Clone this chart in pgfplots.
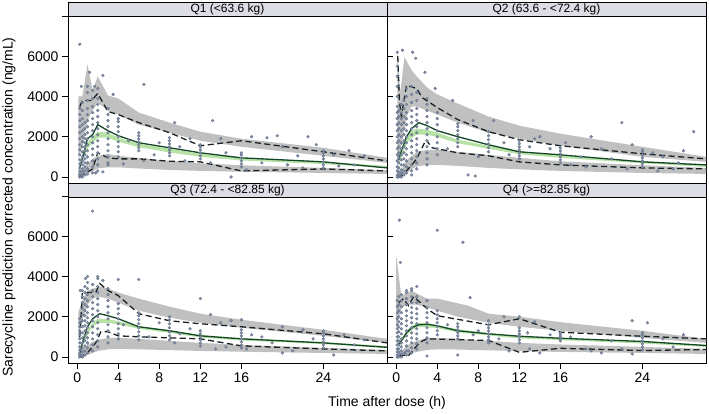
\documentclass[border=0pt]{standalone}
\usepackage{fontspec}
\setmainfont{Liberation Sans}
\usepackage{pgfplots}
\pgfplotsset{compat=1.18}
\definecolor{bandgrey}{RGB}{192,192,192}
\definecolor{bandgreen}{RGB}{182,226,165}
\definecolor{ptfill}{RGB}{130,144,168}
\definecolor{ptedge}{RGB}{100,112,134}
\definecolor{dashcol}{RGB}{24,34,36}
\definecolor{medcol}{RGB}{20,70,40}
\definecolor{stripfill}{RGB}{221,221,229}
\pgfplotsset{
 panel/.style={scale only axis, width=319pt, height=167pt, xmin=-0.9, xmax=30.2, ymin=-300, ymax=8000,
  axis line style={black,line width=0.6pt}, tick style={black,line width=0.6pt}, tick align=outside,
  major tick length=6pt, ticklabel style={font=\fontsize{14}{16}\selectfont},
  /pgf/number format/assume math mode=true, xtick={0,4,8,12,16,24}, xticklabels={0,4,8,12,16,24},
  ytick={0,2000,4000,6000,8000}, yticklabels={0,2000,4000,6000,{}}, scaled y ticks=false},
 noy/.style={ytick=\empty},
 nox/.style={xtick=\empty},
 gband/.style={draw=none, fill=bandgrey},
 mband/.style={draw=none, fill=bandgreen},
 pts/.style={only marks, mark=*, mark size=1.45pt, mark options={fill=ptfill, draw=ptedge, line width=0.3pt}},
 pct/.style={dashcol, line width=1.3pt, dash pattern=on 6pt off 3.5pt, mark=none},
 med/.style={medcol, line width=1.3pt, mark=none},
}
\begin{document}
\begin{tikzpicture}
\useasboundingbox (0,0) rectangle (709pt,414pt);
% ---------------- Q1 ----------------
\begin{axis}[panel, nox, at={(68pt,231pt)}, anchor=south west]
\addplot[gband] coordinates {(0.1,4000)(0.5,4000)(1,5600)(1.5,4300)(2,5000)(3,4050)(4,3900)(6,3200)(9,2700)(12,2250)(16,1900)(24,1450)(30.2,950)
 (30.2,700)(24,1050)(16,1500)(12,1800)(9,2200)(6,2600)(4,3100)(3,3300)(2,3700)(1.5,3300)(1,2800)(0.5,1500)(0.1,900)};
\addplot[gband] coordinates {(0.1,200)(0.5,400)(1,700)(1.5,900)(2,1050)(3,1150)(4,1050)(6,950)(9,800)(12,680)(16,580)(24,450)(30.2,330)
 (30.2,150)(24,200)(16,260)(12,300)(9,350)(6,420)(4,480)(3,480)(2,420)(1.5,300)(1,150)(0.5,30)(0.1,0)};
\addplot[mband] coordinates {(0.25,600)(0.5,1100)(1,1700)(1.5,2000)(2,2250)(3,2200)(4,1950)(6,1650)(9,1400)(12,1150)(16,950)(24,750)(30.2,550)
 (30.2,450)(24,640)(16,820)(12,1000)(9,1220)(6,1480)(4,1750)(3,1950)(2,1950)(1.5,1700)(1,1400)(0.5,850)(0.25,450)};
\addplot[pts] coordinates {
(0.25,0)(0.25,50)(0.25,150)(0.25,300)(0.25,450)(0.25,650)(0.25,850)(0.25,1100)(0.25,1350)(0.25,1600)(0.25,1900)(0.25,2200)(0.25,2500)(0.25,2800)(0.25,3100)(0.25,3400)
(0.5,0)(0.5,100)(0.5,250)(0.5,400)(0.5,600)(0.5,800)(0.5,1000)(0.5,1250)(0.5,1500)(0.5,1750)(0.5,2000)(0.5,2300)(0.5,2600)(0.5,2900)(0.5,3300)(0.5,3700)
(0.75,100)(0.75,300)(0.75,500)(0.75,700)(0.75,900)(0.75,1100)(0.75,1300)(0.75,1500)(0.75,1700)(0.75,1900)(0.75,2100)(0.75,2400)(0.75,2700)
(1,150)(1,400)(1,700)(1,1000)(1,1300)(1,1600)(1,1900)(1,2200)(1,2500)(1,2800)(1,3100)(1,3400)(1,3800)(1,4200)(1,4500)
(1.5,200)(1.5,500)(1.5,800)(1.5,1100)(1.5,1400)(1.5,1700)(1.5,2000)(1.5,2300)(1.5,2600)(1.5,2900)(1.5,3200)(1.5,3500)(1.5,3900)(1.5,4300)
(2,300)(2,600)(2,900)(2,1200)(2,1500)(2,1800)(2,2100)(2,2400)(2,2700)(2,3000)(2,3300)(2,3600)(2,3900)(2,4400)
(3,700)(3,1000)(3,1300)(3,1600)(3,1900)(3,2200)(3,2500)(3,2800)(3,3100)(3,3400)
(4,1000)(4,1250)(4,1500)(4,1750)(4,2000)(4,2250)(4,2500)(4,2750)(4,2900)
(6,1300)(6,1450)(6,1600)(6,1750)(6,1900)(6,2050)(6,2200)
(9,1050)(9,1200)(9,1350)(9,1500)(9,1650)(9,1800)(9,1950)
(12,900)(12,1050)(12,1200)(12,1350)(12,1500)(12,1600)
(16,500)(16,650)(16,800)(16,950)(16,1100)(16,1200)
(24,450)(24,600)(24,750)(24,900)(24,1050)(24,1200)(24,1300)
(0.25,6600)(1.2,5200)(1.7,4500)(0.4,4500)(2.5,5050)(3.5,4100)(6.5,4600)(9.5,2700)(13.2,2800)(3,600)(4.5,650)(6.5,800)(7.5,1100)(10.5,800)(11,1900)(14,1900)(15,0)(17,2000)(18.5,1950)(19.5,2050)(20,1500)(21.5,1050)(22.5,2000)(23.3,1600)(25,1100)(26.5,1300)(28,1050)(13,700)(14.5,1200)(16.5,350)(18,700)(20.5,600)(22,450)(25.5,550)(27,600)(8,1700)(10,1500)(5,1800)(2.5,250)(1.8,200)};
\addplot[pct] coordinates {(0.25,3500)(0.5,3800)(1.4,3800)(2,4150)(3,3250)(4,3100)(6,2700)(9,2200)(12,1550)(16,1800)(24,1250)(30.2,800)};
\addplot[pct] coordinates {(0.25,0)(0.5,100)(1,250)(1.5,400)(2,1200)(3,950)(4,900)(6,900)(9,780)(12,750)(16,300)(24,400)(30.2,300)};
\addplot[med] coordinates {(0.25,500)(0.5,900)(1,1900)(1.5,2100)(2,2600)(3,2300)(4,2050)(6,1700)(9,1450)(12,1200)(16,950)(24,750)(30.2,450)};
\end{axis}
% ---------------- Q2 ----------------
\begin{axis}[panel, nox, noy, at={(387pt,231pt)}, anchor=south west]
\addplot[gband] coordinates {(0.1,6400)(0.4,4200)(0.8,5950)(1.5,5300)(2,5000)(3,4450)(4,4100)(6,3650)(9,3000)(12,2550)(16,2150)(24,1500)(30.2,1000)
 (30.2,750)(24,1000)(16,1550)(12,1900)(9,2200)(6,2700)(4,3100)(3,3300)(2,3500)(1.5,3500)(1,3000)(0.5,1500)(0.1,500)};
\addplot[gband] coordinates {(0.1,200)(0.5,400)(1,800)(1.5,1050)(2,1250)(3,1350)(4,1350)(6,1250)(9,1100)(12,950)(16,780)(24,580)(30.2,450)
 (30.2,150)(24,200)(16,300)(12,380)(9,450)(6,550)(4,600)(3,600)(2,520)(1.5,380)(1,180)(0.5,30)(0.1,0)};
\addplot[mband] coordinates {(0.25,700)(0.5,1200)(1,2000)(1.5,2300)(2,2400)(3,2350)(4,2200)(6,1850)(9,1550)(12,1280)(16,1080)(24,790)(30.2,600)
 (30.2,500)(24,680)(16,950)(12,1130)(9,1400)(6,1680)(4,2000)(3,2100)(2,2100)(1.5,1950)(1,1650)(0.5,950)(0.25,500)};
\addplot[pts] coordinates {
(0.1,0)(0.1,100)(0.1,300)(0.1,500)(0.1,800)(0.1,1100)(0.1,1400)(0.1,1700)(0.1,2000)(0.1,2300)(0.1,2600)(0.1,2900)(0.1,3200)(0.1,3500)(0.1,4000)(0.1,4500)(0.1,5000)(0.1,5500)(0.1,6200)
(0.25,0)(0.25,100)(0.25,250)(0.25,450)(0.25,700)(0.25,950)(0.25,1200)(0.25,1500)(0.25,1800)(0.25,2100)(0.25,2400)(0.25,2700)(0.25,3000)(0.25,3300)
(0.5,0)(0.5,150)(0.5,350)(0.5,600)(0.5,850)(0.5,1100)(0.5,1400)(0.5,1700)(0.5,2000)(0.5,2300)(0.5,2600)(0.5,2900)(0.5,3200)(0.5,3600)
(0.75,100)(0.75,300)(0.75,600)(0.75,900)(0.75,1200)(0.75,1500)(0.75,1800)(0.75,2100)(0.75,2400)(0.75,2700)(0.75,3000)(0.75,3400)(0.75,3800)
(1,200)(1,500)(1,800)(1,1100)(1,1400)(1,1700)(1,2000)(1,2300)(1,2600)(1,2900)(1,3200)(1,3600)(1,4000)(1,4400)
(1.5,300)(1.5,600)(1.5,900)(1.5,1200)(1.5,1500)(1.5,1800)(1.5,2100)(1.5,2400)(1.5,2700)(1.5,3000)(1.5,3300)(1.5,3700)(1.5,4100)(1.5,4500)
(2,400)(2,700)(2,1000)(2,1300)(2,1600)(2,1900)(2,2200)(2,2500)(2,2800)(2,3100)(2,3400)(2,3800)(2,4200)
(3,600)(3,900)(3,1200)(3,1500)(3,1800)(3,2100)(3,2400)(3,2700)(3,3000)(3,3300)(3,3600)(3,3900)
(4,1100)(4,1400)(4,1700)(4,2000)(4,2300)(4,2600)(4,2900)(4,3200)
(6,1500)(6,1700)(6,1900)(6,2100)(6,2300)(6,2500)(6,2650)
(9,1250)(9,1450)(9,1650)(9,1850)(9,2050)(9,2250)
(12,900)(12,1050)(12,1200)(12,1350)(12,1500)(12,1650)(12,1800)
(16,700)(16,850)(16,1000)(16,1150)(16,1300)(16,1450)
(24,500)(24,650)(24,800)(24,950)(24,1100)(24,1250)(24,1350)
(0.6,6300)(1.6,6200)(1.9,5900)(2.8,5200)(3.8,4400)(5.5,3800)(7.5,2800)(9.5,2800)(13.5,1900)(14,2000)(22,2700)(23,1600)(29,2250)(0.5,200)(1.5,100)(7,100)(7.7,50)(12,900)(13,1500)(16.5,1700)(18,1000)(19,2000)(20,1400)(21,900)(25,1200)(26,1000)(27,400)(28,1300)(10.5,1700)(11,1100)(15,1400)(17,600)(18.5,500)(22.5,400)(25.5,300)(27.5,700)(5,1400)(8,1000)};
\addplot[pct] coordinates {(0.15,6000)(0.3,3800)(0.5,3000)(1,4550)(2,4400)(2.5,3950)(4,3450)(6,2850)(9,2250)(12,1850)(16,1550)(24,1150)(30.2,900)};
\addplot[pct] coordinates {(0.2,0)(0.5,50)(1,300)(1.5,600)(2,900)(2.9,1850)(3.5,1450)(6,1200)(9,1050)(12,750)(16,600)(24,450)(30.2,400)};
\addplot[med] coordinates {(0.25,850)(0.5,1300)(1,2000)(1.5,2400)(2.2,2700)(3,2550)(4,2300)(6,2000)(9,1600)(12,1250)(16,1100)(24,750)(30.2,600)};
\end{axis}
% ---------------- Q3 ----------------
\begin{axis}[panel, at={(68pt,51pt)}, anchor=south west]
\addplot[gband] coordinates {(0.1,2200)(0.5,2800)(1,3300)(1.5,3400)(2.3,3500)(3,3400)(4,3200)(6,2900)(9,2500)(12,2150)(16,1850)(24,1350)(30.2,900)
 (30.2,700)(24,1050)(16,1450)(12,1700)(9,1950)(6,2300)(4,2700)(3,2900)(2,3000)(1.5,2900)(1,2600)(0.5,1800)(0.1,900)};
\addplot[gband] coordinates {(0.1,200)(0.5,400)(1,600)(1.5,750)(2,850)(3,950)(4,950)(6,900)(9,800)(12,700)(16,600)(24,450)(30.2,350)
 (30.2,150)(24,200)(16,260)(12,300)(9,340)(6,380)(4,400)(3,380)(2,300)(1.5,200)(1,100)(0.5,20)(0.1,0)};
\addplot[mband] coordinates {(0.25,300)(0.5,700)(1,1300)(1.5,1700)(2,1900)(3,1880)(4,1780)(6,1530)(9,1330)(12,1090)(16,940)(24,740)(30.2,540)
 (30.2,440)(24,640)(16,820)(12,970)(9,1200)(6,1400)(4,1620)(3,1700)(2,1700)(1.5,1500)(1,1100)(0.5,550)(0.25,180)};
\addplot[pts] coordinates {
(0.25,0)(0.25,100)(0.25,200)(0.25,350)(0.25,500)(0.25,700)(0.25,900)(0.25,1100)(0.25,1300)(0.25,1500)(0.25,1700)(0.25,1900)
(0.5,0)(0.5,100)(0.5,250)(0.5,450)(0.5,700)(0.5,950)(0.5,1200)(0.5,1500)(0.5,1800)(0.5,2100)(0.5,2400)(0.5,2700)(0.5,3000)(0.5,3300)
(0.75,100)(0.75,300)(0.75,550)(0.75,800)(0.75,1050)(0.75,1300)(0.75,1550)(0.75,1800)(0.75,2050)(0.75,2300)(0.75,2600)(0.75,2900)(0.75,3200)(0.75,3500)
(1,200)(1,450)(1,700)(1,950)(1,1200)(1,1450)(1,1700)(1,1950)(1,2200)(1,2500)(1,2800)(1,3100)(1,3400)(1,3700)
(1.5,300)(1.5,600)(1.5,900)(1.5,1200)(1.5,1500)(1.5,1800)(1.5,2100)(1.5,2400)(1.5,2700)(1.5,3000)(1.5,3300)(1.5,3600)
(2,500)(2,800)(2,1100)(2,1400)(2,1700)(2,2000)(2,2300)(2,2600)(2,2900)(2,3200)(2,3500)(2,3900)
(3,700)(3,1000)(3,1300)(3,1600)(3,1900)(3,2200)(3,2500)(3,2800)(3,3100)(3,3400)
(4,900)(4,1150)(4,1400)(4,1650)(4,1900)(4,2150)(4,2400)(4,2650)
(6,850)(6,1050)(6,1250)(6,1450)(6,1650)(6,1850)(6,2050)(6,2200)
(9,850)(9,1050)(9,1250)(9,1450)(9,1650)(9,1850)(9,2000)
(12,550)(12,700)(12,850)(12,1000)(12,1150)(12,1300)
(16,450)(16,600)(16,750)(16,900)(16,1050)(16,1200)(16,1350)
(24,450)(24,600)(24,750)(24,900)(24,1050)(24,1200)(24,1300)
(1.5,7250)(0.8,3900)(1,4000)(2,4000)(4,3850)(6,3850)(12,2900)(13,2100)(14,1700)(15,1800)(16,1850)(18,1000)(20,1500)(22,1350)(25,100)(21,300)(8,1700)(10,1150)(11,1400)(14.5,500)(17,1100)(19,700)(23,900)(26,1100)(28,850)(4.5,1600)(7,1000)(9.5,700)(13.5,400)(16.5,400)(20,200)(27,600)(0.3,3300)(2.5,3800)};
\addplot[pct] coordinates {(0.25,1000)(0.5,3150)(1,3200)(1.8,3200)(2.2,3650)(3,3300)(4,3050)(6,2150)(9,1800)(12,1650)(16,1500)(24,1150)(30.2,700)};
\addplot[pct] coordinates {(0.25,0)(0.5,0)(1,200)(1.8,700)(2,900)(2.3,1250)(3,1250)(4,1050)(6,1000)(9,950)(12,900)(16,550)(24,400)(30.2,300)};
\addplot[med] coordinates {(0.25,150)(0.5,700)(1,1500)(1.5,1900)(2.2,2150)(3,2050)(4,1900)(6,1500)(9,1300)(12,1050)(16,900)(24,700)(30.2,480)};
\end{axis}
% ---------------- Q4 ----------------
\begin{axis}[panel, noy, at={(387pt,51pt)}, anchor=south west]
\addplot[gband] coordinates {(0,5050)(0.5,3000)(1,3250)(1.7,3250)(2.2,3100)(3,2900)(4,2900)(7,2550)(9,2150)(12,2000)(16,1730)(24,1300)(30.2,900)
 (30.2,700)(24,950)(16,1300)(12,1500)(9,1700)(6,2000)(4,2300)(3,2450)(2,2600)(1,2600)(0.5,2400)(0,1500)};
\addplot[gband] coordinates {(0.1,150)(0.5,300)(1,550)(1.5,700)(2,800)(3,950)(4,950)(6,900)(9,800)(12,700)(16,620)(24,500)(30.2,400)
 (30.2,150)(24,200)(16,250)(12,290)(9,330)(6,370)(4,380)(3,350)(2,250)(1.5,180)(1,100)(0.5,20)(0.1,0)};
\addplot[mband] coordinates {(0.25,600)(0.5,900)(1,1300)(1.5,1550)(2,1680)(3,1680)(4,1580)(6,1380)(9,1180)(12,1040)(16,940)(24,780)(30.2,600)
 (30.2,500)(24,670)(16,840)(12,920)(9,1070)(6,1230)(4,1430)(3,1480)(2,1480)(1.5,1330)(1,1080)(0.5,720)(0.25,420)};
\addplot[pts] coordinates {
(0.1,0)(0.1,100)(0.1,250)(0.1,400)(0.1,600)(0.1,800)(0.1,1000)(0.1,1200)(0.1,1400)(0.1,1600)(0.1,1900)(0.1,2200)(0.1,2500)(0.1,2800)
(0.25,0)(0.25,100)(0.25,250)(0.25,400)(0.25,600)(0.25,800)(0.25,1000)(0.25,1250)(0.25,1500)(0.25,1750)(0.25,2000)(0.25,2300)(0.25,2600)(0.25,3000)
(0.5,0)(0.5,150)(0.5,300)(0.5,500)(0.5,700)(0.5,900)(0.5,1150)(0.5,1400)(0.5,1650)(0.5,1900)(0.5,2200)(0.5,2500)(0.5,2800)(0.5,3100)
(1,100)(1,300)(1,550)(1,800)(1,1050)(1,1300)(1,1550)(1,1800)(1,2050)(1,2300)(1,2600)(1,2900)(1,3200)
(1.5,200)(1.5,450)(1.5,700)(1.5,950)(1.5,1200)(1.5,1450)(1.5,1700)(1.5,1950)(1.5,2200)(1.5,2450)(1.5,2700)(1.5,3000)(1.5,3300)
(2,400)(2,650)(2,900)(2,1150)(2,1400)(2,1650)(2,1900)(2,2150)(2,2400)(2,2700)(2,3000)
(3,700)(3,950)(3,1200)(3,1450)(3,1700)(3,1950)(3,2200)(3,2450)(3,2800)
(4,1100)(4,1300)(4,1500)(4,1700)(4,1900)(4,2100)(4,2300)
(6,900)(6,1050)(6,1200)(6,1350)(6,1500)(6,1650)
(9,700)(9,850)(9,1000)(9,1150)(9,1300)(9,1450)(9,1600)
(12,700)(12,850)(12,1000)(12,1150)(12,1300)(12,1450)
(16,800)(16,900)(16,1000)(16,1100)(16,1200)
(24,350)(24,500)(24,650)(24,800)(24,950)(24,1100)(24,1200)
(0.3,6800)(4,6300)(6.5,5700)(0.4,4700)(1.5,3400)(2,3500)(1,3300)(7.2,2950)(9,1800)(10.5,2000)(12,2000)(13.5,1750)(23,1800)(24.5,1700)(28,1100)(0.8,200)(1.2,300)(3,50)(6,100)(11,300)(13,400)(14,200)(17,1000)(18.5,400)(19,300)(20,200)(22,400)(23,150)(8,1300)(10,900)(15,1100)(21,800)(26,900)(27,500)(5,1600)(7.5,1100)(12.8,1200)};
\addplot[pct] coordinates {(0.25,2700)(0.7,2900)(1.2,2550)(1.7,3000)(3,2400)(4,2050)(9,1600)(12,1900)(16,1230)(24,1030)(30.2,900)};
\addplot[pct] coordinates {(0.25,70)(1.2,70)(2.3,730)(3,900)(9,820)(12,230)(16,430)(24,320)(30.2,370)};
\addplot[med] coordinates {(0.1,570)(0.5,800)(1,1200)(1.5,1450)(2.2,1600)(3.1,1620)(4,1550)(6,1300)(9,1150)(12,1030)(16,930)(24,770)(30.2,570)};
\end{axis}
% ---------------- strips and labels ----------------
\begin{scope}[line width=0.6pt]
\draw[fill=stripfill] (68pt,398pt) rectangle (387pt,412pt);
\draw[fill=stripfill] (387pt,398pt) rectangle (706pt,412pt);
\draw[fill=stripfill] (68pt,217pt) rectangle (387pt,231pt);
\draw[fill=stripfill] (387pt,217pt) rectangle (706pt,231pt);
\end{scope}
\node[font=\fontsize{12}{13}\selectfont] at (227.5pt,405pt) {Q1 (<63.6 kg)};
\node[font=\fontsize{12}{13}\selectfont] at (546.5pt,405pt) {Q2 (63.6 - <72.4 kg)};
\node[font=\fontsize{12}{13}\selectfont] at (227.5pt,224pt) {Q3 (72.4 - <82.85 kg)};
\node[font=\fontsize{12}{13}\selectfont] at (546.5pt,224pt) {Q4 (>=82.85 kg)};
\node[font=\fontsize{14}{16}\selectfont, rotate=90] at (9pt,207pt) {Sarecycline prediction corrected concentration (ng/mL)};
\node[font=\fontsize{14}{16}\selectfont] at (387pt,11pt) {Time after dose (h)};
\end{tikzpicture}
\end{document}
